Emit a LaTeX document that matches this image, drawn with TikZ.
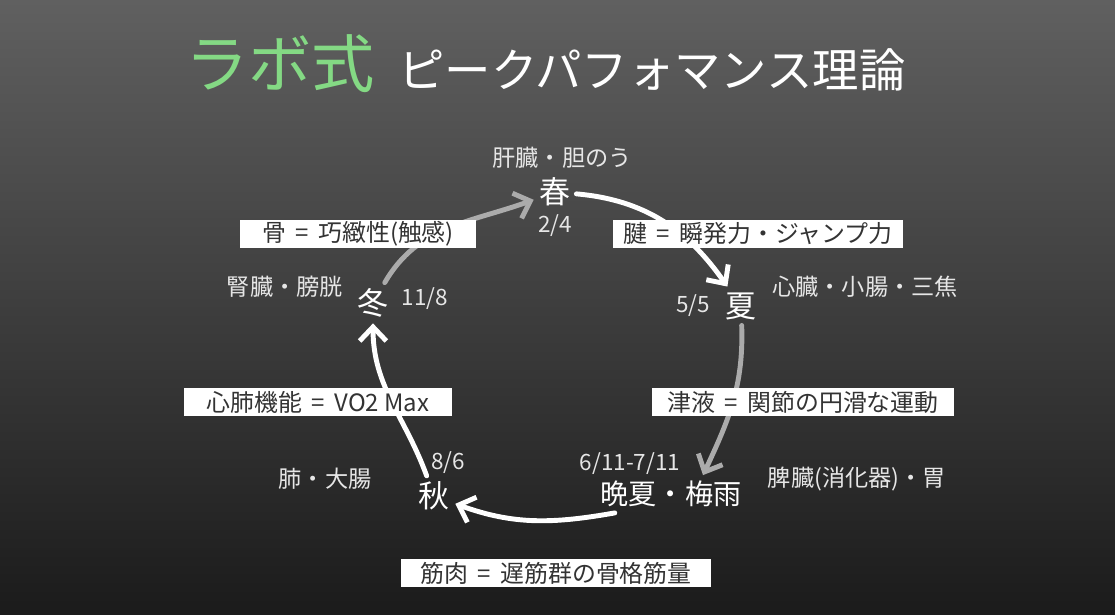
\documentclass[tikz,border=0pt]{standalone}
\usepackage{fontspec}
\setmainfont{Noto Sans CJK JP}
\usetikzlibrary{arrows.meta}
\definecolor{labgreen}{HTML}{84D984}
\definecolor{bgtop}{HTML}{606060}
\definecolor{bgbottom}{HTML}{1B1B1B}
\definecolor{arrowgray}{HTML}{ABABAB}
\definecolor{textgray}{HTML}{E6E6E6}
\newcommand{\eqsign}{\hspace{.4em}=\hspace{.4em}}

\begin{document}
\begin{tikzpicture}[x=0.025cm,y=0.025cm]

      % Background
      \useasboundingbox (0,0) rectangle (1115,614);
      \shade[top color=bgtop,bottom color=bgbottom] (0,0) rectangle (1115,614);

      % Title
      \node[text=labgreen,font=\fontsize{45}{50}\selectfont] (lab) at (280,550) {ラボ式};
      \node[text=white,font=\fontsize{33}{38}\selectfont] (theory) at (652,544) {ピークパフォマンス理論};

      % Seasons
      \begin{scope}[every node/.style={text=white,inner sep=4pt,font=\fontsize{22}{24}\selectfont}]
        \node (spring) at (555,422) {春};
        \node (summer) at (741,308) {夏};
        \node[font=\fontsize{20}{24}\selectfont] (latesummer) at (671,120) {晩夏・梅雨};
        \node (autumn) at (434,118) {秋};
        \node (winter) at (373,311) {冬};
      \end{scope}

      % Organs and dates
      \begin{scope}[every node/.style={text=textgray,font=\fontsize{16.5}{18}\selectfont}]
        \node (liver) at (562,456) {肝臓・胆のう};
        \node (heart) at (865,327) {心臓・小腸・三焦};
        \node (spleen) at (857,135) {脾臓(消化器)・胃};
        \node (lung) at (325,135) {肺・大腸};
        \node (kidney) at (285,327) {腎臓・膀胱};
      \end{scope}
      \begin{scope}[every node/.style={text=textgray,font=\fontsize{16}{18}\selectfont}]
        \node (d1) at (555,388) {2/4};
        \node (d2) at (693,308) {5/5};
        \node (d3) at (630,150) {6/11-7/11};
        \node (d4) at (448,151) {8/6};
        \node (d5) at (425,315) {11/8};
      \end{scope}

      % Cycle
      \begin{scope}[every path/.style={line width=3.5pt,line cap=round,-{Straight Barb[length=10pt,width=19pt]}}]
        \draw[arrowgray] (winter) to[out=60,in=200] (spring);
        \draw[white] (spring) to[out=-5,in=125] (summer);
        \draw[arrowgray] (summer) to[out=-88,in=65] ([xshift=0.8cm]latesummer.north);
        \draw[white] ([xshift=0.5cm]latesummer.south west) to[out=190,in=-20] (autumn);
        \draw[white] (autumn) to[out=110,in=-90] (winter);
      \end{scope}

      % Boxes
      \begin{scope}[every node/.style={fill=white,text=black!80,inner sep=0pt,minimum height=0.7cm,font=\fontsize{17}{18}\selectfont}]
        \node[minimum width=5.9cm] (bone) at (358,380) {骨\eqsign 巧緻性(触感)};
        \node[minimum width=7.25cm] (tendon) at (758,380) {腱\eqsign 瞬発力・ジャンプ力};
        \node[minimum width=6.7cm] (cardio) at (318,212) {心肺機能\eqsign VO2 Max};
        \node[minimum width=7.55cm] (fluid) at (803,212) {津液\eqsign 関節の円滑な運動};
        \node[minimum width=7.75cm] (muscle) at (556,41) {筋肉\eqsign 遅筋群の骨格筋量};
      \end{scope}

    \end{tikzpicture}
\end{document}
